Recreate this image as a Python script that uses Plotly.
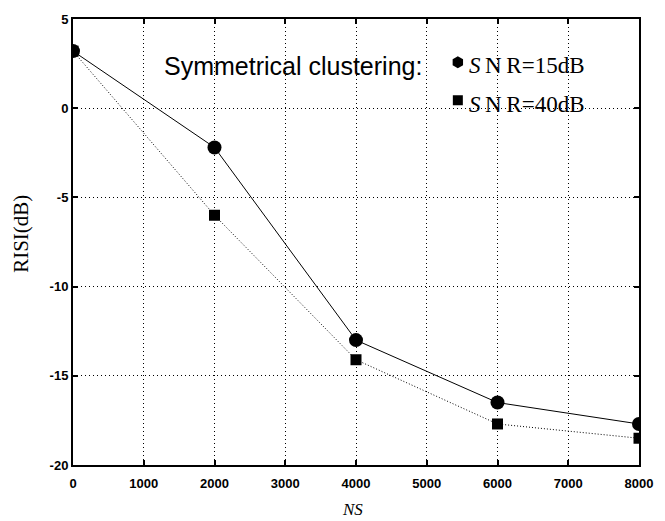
import plotly.graph_objects as go

ns = [0, 2000, 4000, 6000, 8000]
risi_15 = [3.2, -2.2, -13.0, -16.5, -17.7]
risi_40 = [3.2, -6.0, -14.1, -17.7, -18.5]
x_ticks = [0, 1000, 2000, 3000, 4000, 5000, 6000, 7000, 8000]
y_ticks = [5, 0, -5, -10, -15, -20]
y_ticktext = ["5", "0", "-5", "-10", "-15", "-20"]
legend_title = "Symmetrical clustering:"
legend_labels = ["<i>S</i>\u2009N\u2009R=15dB", "<i>S</i>\u2009N\u2009R=40dB"]
x_title = "<i>NS</i>"
y_title = "RISI(dB)"

fig = go.Figure()
fig.add_trace(go.Scatter(x=ns, y=risi_15, mode="lines+markers",
                         line=dict(color="black", width=1),
                         marker=dict(symbol="circle", size=14, color="black"),
                         showlegend=False))
fig.add_trace(go.Scatter(x=ns, y=risi_40, mode="lines+markers",
                         line=dict(color="black", width=1, dash="1px,2px"),
                         marker=dict(symbol="square", size=11, color="black"),
                         showlegend=False))
# legend-only entries (markers); labels placed as annotations
fig.add_trace(go.Scatter(x=[None], y=[None], mode="markers", name=" ",
                         marker=dict(symbol="hexagon", size=12, color="black"),
                         legendgroup="a"))
fig.add_trace(go.Scatter(x=[None], y=[None], mode="markers", name=" ",
                         marker=dict(symbol="square", size=10, color="black"),
                         legendgroup="b"))

axis_common = dict(showline=True, linecolor="black", linewidth=2, mirror="ticks",
                   ticks="inside", ticklen=5, tickwidth=2, tickcolor="black",
                   showgrid=True, gridcolor="black", gridwidth=1, griddash="1px,3px",
                   zeroline=False,
                   tickfont=dict(family="Liberation Sans", size=13, color="black", weight="bold"))

W, H = 665, 521
ml, mr, mt, mb = 73, 18, 15, 56
pw, ph = W - ml - mr, H - mt - mb

def px(x):
    return (x - ml) / pw

def py(y):
    return (H - mb - y) / ph

fig.update_layout(
    width=W, height=H,
    margin=dict(l=ml, r=mr, t=mt, b=mb),
    paper_bgcolor="white", plot_bgcolor="white",
    xaxis=dict(range=[0, 8000], tickvals=x_ticks, ticklabelstandoff=5, **axis_common),
    yaxis=dict(range=[-20, 5], tickvals=y_ticks, ticktext=y_ticktext, **axis_common),
    legend=dict(x=px(443), y=py(39), xanchor="left", yanchor="top",
                bgcolor="rgba(0,0,0,0)", borderwidth=0,
                font=dict(family="Liberation Serif", size=20, color="black"),
                tracegroupgap=9, itemwidth=30),
    annotations=[
        dict(text=legend_title, xref="paper", yref="paper",
             x=px(163), y=py(62), xanchor="left", yanchor="middle", showarrow=False,
             font=dict(family="Liberation Sans", size=25, color="black")),
        dict(text=legend_labels[0], xref="paper", yref="paper",
             x=px(473), y=py(62), xanchor="left", yanchor="middle", showarrow=False,
             font=dict(family="Liberation Serif", size=23, color="black")),
        dict(text=legend_labels[1], xref="paper", yref="paper",
             x=px(473), y=py(101), xanchor="left", yanchor="middle", showarrow=False,
             font=dict(family="Liberation Serif", size=23, color="black")),
        dict(text=x_title, xref="paper", yref="paper",
             x=px(356), y=py(510), xanchor="center", yanchor="middle", showarrow=False,
             font=dict(family="Liberation Serif", size=17, color="black")),
        dict(text=y_title, xref="paper", yref="paper", textangle=-90,
             x=px(20), y=py(232), xanchor="center", yanchor="middle", showarrow=False,
             font=dict(family="Liberation Serif", size=21, color="black")),
    ],
)

fig.write_html("out.html")
